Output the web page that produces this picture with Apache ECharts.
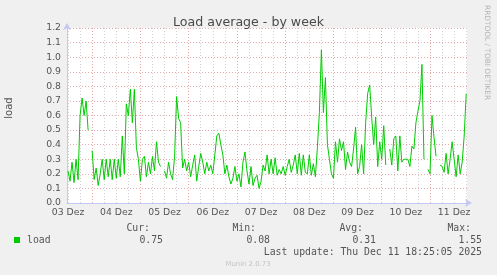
<!DOCTYPE html>
<html>
<head>
<meta charset="utf-8">
<script src="https://cdn.jsdelivr.net/npm/echarts@6/dist/echarts.min.js"></script>
<style>
  html, body { margin: 0; padding: 0; background: #f0f0f0; }
  #main { width: 497px; height: 275px; }
</style>
</head>
<body>
<div id="main"></div>
<script>
// hours counted from 03 Dez 00:00, one sample per hour starting at 03 Dez 12:00
const startHour = 12;
const xMin = 11.5;
const xMax = 210.4;

const loadValues = [
  0.22, 0.15, 0.28, 0.14, 0.3, 0.16,
  0.6, 0.72, 0.6, 0.7, 0.5, null,
  0.36, 0.16, 0.24, 0.12, 0.2, 0.3, 0.16, 0.3, 0.18, 0.3, 0.16, 0.3, 0.17, 0.3, 0.18,
  0.46, 0.2, 0.68, 0.6, 0.78, 0.55, 0.78, 0.38, 0.3,
  0.15, 0.3, 0.32, 0.18, 0.28, 0.2, 0.32, 0.22, 0.42, 0.28, 0.25,
  null,
  0.22, 0.17, 0.28, 0.2, 0.16, 0.32, 0.73, 0.58, 0.55, 0.24,
  0.3, 0.22, 0.28, 0.18, 0.26, 0.33, 0.15, 0.25, 0.34, 0.28, 0.2, 0.28, 0.22, 0.26, 0.2, 0.33, 0.46, 0.48, 0.4, 0.33, 0.2, 0.26,
  0.18, 0.13, 0.17, 0.25, 0.15, 0.2, 0.11, 0.28, 0.35, 0.22, 0.13, 0.25, 0.12, 0.17, 0.19, 0.1, 0.15, 0.26, 0.22, 0.33,
  0.2, 0.3, 0.2, 0.31, 0.19, 0.23, 0.2, 0.25, 0.19, 0.25, 0.3, 0.21, 0.26, 0.33, 0.2, 0.34, 0.19, 0.33, 0.21,
  0.2, 0.33, 0.19, 0.27, 0.18, 0.38, 0.62, 1.05, 0.62, 0.86, 0.4, 0.3, 0.2, 0.17, 0.42, 0.28, 0.44, 0.36, 0.42, 0.23,
  0.35, 0.28, 0.25, 0.37, 0.52, 0.2, 0.25, 0.4, 0.2, 0.55, 0.75, 0.81, 0.59, 0.4, 0.59, 0.25, 0.42, 0.3, 0.53, 0.26,
  null, 0.37, 0.26, 0.44, 0.46, 0.22, 0.46, 0.28, 0.3, 0.3, 0.3, 0.25, 0.39, 0.37, 0.55, 0.63, 0.7, 0.95, 0.3, null,
  0.23, 0.2, 0.6, 0.45, 0.32, null, 0.26, 0.25, 0.21, 0.34, 0.2, 0.3, 0.42, 0.3, 0.18, 0.33, 0.2, 0.28, 0.46, 0.75
];

const dayLabels = ['03 Dez', '04 Dez', '05 Dez', '06 Dez', '07 Dez', '08 Dez', '09 Dez', '10 Dez', '11 Dez'];

const legendStats = { cur: '0.75', min: '0.08', avg: '0.31', max: '1.55' };
const lastUpdate = 'Last update: Thu Dec 11 18:25:05 2025';

// tick positions (hours)
const midnights = dayLabels.map((d, i) => i * 24).filter(h => h > xMin && h < xMax);
const noons = dayLabels.map((d, i) => i * 24 + 12);
const quarterDays = [];
for (let h = 0; h < xMax; h += 6) {
  if (h > xMin && h % 24 !== 0) quarterDays.push(h);
}

const seriesData = loadValues.map((v, i) => [startHour + i, v]);

const chart = echarts.init(document.getElementById('main'));

const sans = 'DejaVu Sans';
const mono = 'DejaVu Sans Mono';
const axisBlue = '#c4c8f4';
const gridRed = '#e6aaaa';
const gridGrey = '#d2d2d2';
const txt = '#555';

const option = {
  animation: false,
  backgroundColor: '#f0f0f0',
  title: {
    text: 'Load average - by week',
    left: 'center',
    top: 11,
    textStyle: { fontFamily: sans, fontSize: 12.6, fontWeight: 'normal', color: '#4a4a4a' }
  },
  grid: {
    left: 67, right: 30, top: 28, bottom: 72,
    show: true, backgroundColor: '#ffffff', borderWidth: 0
  },
  xAxis: [
    {
      type: 'value',
      min: xMin,
      max: xMax,
      position: 'bottom',
      axisLine: {
        show: true,
        lineStyle: { color: axisBlue, width: 1 },
        symbol: ['none', 'arrow'],
        symbolSize: [6, 7],
        symbolOffset: [0, 5]
      },
      axisTick: { show: false, customValues: midnights },
      axisLabel: {
        customValues: noons,
        formatter: v => dayLabels[Math.round((v - 12) / 24)] || '',
        fontFamily: sans, fontSize: 9.3, color: txt, margin: 5
      },
      splitLine: { show: true, lineStyle: { color: gridRed, width: 1, type: [1, 2] } }
    },
    {
      type: 'value',
      min: xMin,
      max: xMax,
      position: 'top',
      axisLine: { show: false },
      axisTick: { show: false, customValues: quarterDays },
      axisLabel: { show: false },
      splitLine: { show: true, lineStyle: { color: gridGrey, width: 1, type: [1, 2] } }
    }
  ],
  yAxis: {
    type: 'value',
    min: 0,
    max: 1.2,
    interval: 0.1,
    axisLine: {
      show: true,
      lineStyle: { color: axisBlue, width: 1 },
      symbol: ['none', 'arrow'],
      symbolSize: [6, 7],
      symbolOffset: [0, 5]
    },
    axisTick: { show: false },
    axisLabel: {
      formatter: v => v.toFixed(1),
      fontFamily: sans, fontSize: 9.3, color: txt, margin: 6
    },
    splitLine: { show: true, lineStyle: { color: gridRed, width: 1, type: [1, 2] } }
  },
  series: [
    {
      name: 'load',
      type: 'line',
      data: seriesData,
      showSymbol: false,
      connectNulls: false,
      lineStyle: { color: '#00cc00', width: 1 },
      itemStyle: { color: '#00cc00' },
      z: 5
    }
  ],
  graphic: [
    {
      type: 'text', x: 9, y: 108, rotation: Math.PI / 2,
      style: { text: 'load', fontFamily: sans, fontSize: 10, fill: txt, align: 'center', verticalAlign: 'middle' }
    },
    {
      type: 'text', x: 487, y: 5, rotation: -Math.PI / 2,
      style: { text: 'RRDTOOL / TOBI OETIKER', fontFamily: sans, fontSize: 7.4, fill: '#b4b4b4', align: 'left', verticalAlign: 'middle' }
    },
    { type: 'rect', shape: { x: 14, y: 237, width: 6, height: 6 }, style: { fill: '#00cc00' } },
    {
      type: 'text', x: 27, y: 240,
      style: { text: 'load', fontFamily: mono, fontSize: 9.8, fill: txt, align: 'left', verticalAlign: 'middle' }
    },
    { type: 'text', x: 150, y: 228, style: { text: 'Cur:', fontFamily: mono, fontSize: 9.8, fill: txt, align: 'right', verticalAlign: 'middle' } },
    { type: 'text', x: 163, y: 240, style: { text: legendStats.cur, fontFamily: mono, fontSize: 9.8, fill: txt, align: 'right', verticalAlign: 'middle' } },
    { type: 'text', x: 256, y: 228, style: { text: 'Min:', fontFamily: mono, fontSize: 9.8, fill: txt, align: 'right', verticalAlign: 'middle' } },
    { type: 'text', x: 270, y: 240, style: { text: legendStats.min, fontFamily: mono, fontSize: 9.8, fill: txt, align: 'right', verticalAlign: 'middle' } },
    { type: 'text', x: 363, y: 228, style: { text: 'Avg:', fontFamily: mono, fontSize: 9.8, fill: txt, align: 'right', verticalAlign: 'middle' } },
    { type: 'text', x: 376, y: 240, style: { text: legendStats.avg, fontFamily: mono, fontSize: 9.8, fill: txt, align: 'right', verticalAlign: 'middle' } },
    { type: 'text', x: 471, y: 228, style: { text: 'Max:', fontFamily: mono, fontSize: 9.8, fill: txt, align: 'right', verticalAlign: 'middle' } },
    { type: 'text', x: 482, y: 240, style: { text: legendStats.max, fontFamily: mono, fontSize: 9.8, fill: txt, align: 'right', verticalAlign: 'middle' } },
    { type: 'text', x: 482, y: 252, style: { text: lastUpdate, fontFamily: mono, fontSize: 9.8, fill: txt, align: 'right', verticalAlign: 'middle' } },
    {
      type: 'text', x: 248, y: 264,
      style: { text: 'Munin 2.0.73', fontFamily: sans, fontSize: 6.9, fill: '#c4c4c4', align: 'center', verticalAlign: 'middle' }
    }
  ]
};

chart.setOption(option);
</script>
</body>
</html>
